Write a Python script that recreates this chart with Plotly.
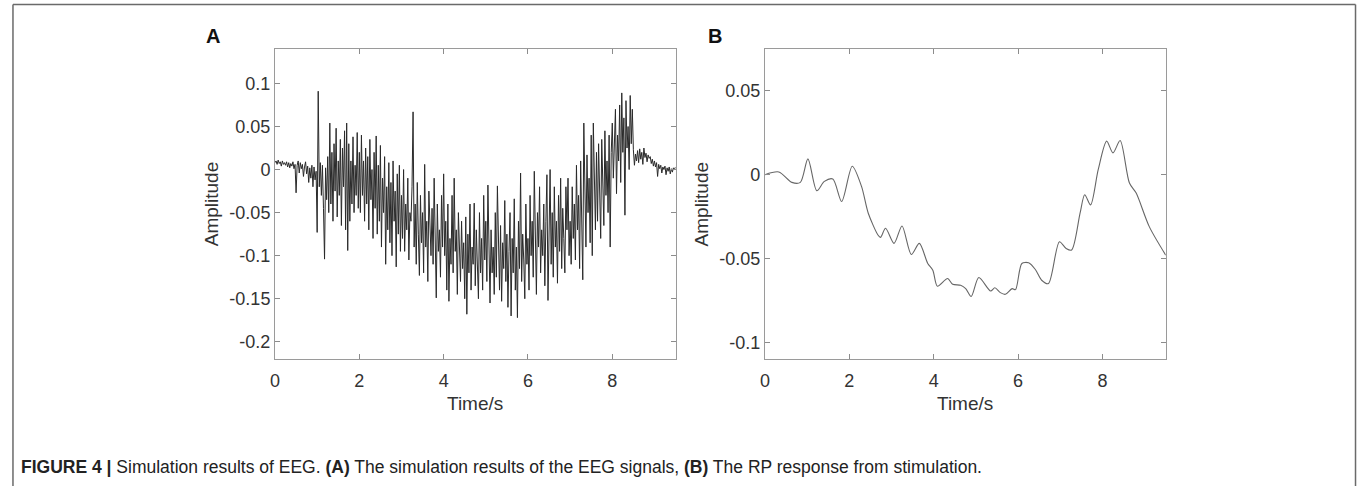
import numpy as np
import plotly.graph_objects as go

# ---------------- Data ----------------
# Panel A: simulated EEG signal, sampled every 0.025 s from 0 to 9.5 s
eeg_dt = 0.025
eeg_values = [
    # 0.0 - 1.0 s
    0.008, 0.010, 0.006, 0.011, 0.007, 0.009, 0.004, 0.010, 0.006, 0.008,
    0.005, 0.009, 0.003, 0.008, 0.002, 0.007, 0.004, 0.009, 0.001, 0.006,
    -0.027, 0.005, 0.010, -0.004, 0.008, 0.001, 0.006, -0.008, 0.003, 0.009,
    -0.005, 0.004, -0.015, 0.002, -0.010, 0.005, -0.020, 0.003, -0.012, -0.002,
    # 1.0 - 2.0 s
    -0.073, 0.091, -0.020, 0.008, -0.030, 0.005, -0.045, -0.104, 0.002, -0.035,
    0.015, -0.050, 0.054, -0.040, 0.020, -0.060, 0.030, -0.025, 0.048, -0.055,
    0.010, -0.030, 0.035, -0.065, 0.025, -0.020, 0.045, -0.070, 0.054, -0.094,
    0.030, -0.060, 0.010, -0.040, 0.038, -0.050, 0.005, -0.030, 0.043, -0.045,
    # 2.0 - 3.0 s
    0.020, -0.050, 0.040, -0.030, 0.010, -0.060, 0.025, -0.040, 0.015, -0.070,
    0.035, -0.035, 0.000, -0.080, 0.020, -0.045, 0.039, -0.075, 0.005, -0.060,
    0.028, -0.090, -0.010, -0.050, 0.015, -0.110, -0.020, -0.070, 0.008, -0.085,
    -0.015, -0.100, 0.010, -0.060, -0.025, -0.113, -0.005, -0.075, 0.005, -0.095,
    # 3.0 - 4.0 s
    -0.030, -0.080, 0.000, -0.095, -0.040, -0.070, -0.010, -0.105, -0.050, -0.060,
    -0.020, 0.067, -0.090, -0.040, -0.110, -0.015, -0.075, -0.123, -0.030, -0.085,
    -0.050, -0.120, 0.006, -0.090, -0.060, -0.130, -0.025, -0.080, -0.100, -0.045,
    -0.110, -0.010, -0.085, -0.149, -0.040, -0.095, -0.070, -0.125, -0.030, -0.090,
    # 4.0 - 5.0 s
    -0.005, -0.100, -0.060, -0.140, -0.040, -0.153, -0.080, -0.110, -0.030, -0.120,
    -0.010, -0.095, -0.070, -0.145, -0.050, -0.100, -0.130, -0.060, -0.115, -0.085,
    -0.150, -0.055, -0.168, -0.075, -0.120, -0.040, -0.140, -0.090, -0.110, -0.039,
    -0.135, -0.070, -0.100, -0.150, -0.050, -0.120, -0.080, -0.140, -0.030, -0.105,
    # 5.0 - 6.0 s
    -0.060, -0.130, -0.018, -0.110, -0.155, -0.070, -0.120, -0.090, -0.145, -0.050,
    -0.125, -0.019, -0.100, -0.140, -0.065, -0.153, -0.085, -0.115, -0.036, -0.130,
    -0.075, -0.160, -0.095, -0.050, -0.170, -0.080, -0.120, -0.034, -0.140, -0.090,
    -0.172, -0.060, -0.115, -0.004, -0.130, -0.075, -0.105, -0.150, -0.040, -0.110,
    # 6.0 - 7.0 s
    -0.080, -0.140, -0.030, -0.100, -0.060, -0.125, -0.002, -0.110, -0.145, -0.050,
    -0.090, -0.020, -0.120, -0.070, -0.100, -0.040, -0.135, -0.060, -0.006, -0.152,
    -0.080, 0.000, -0.110, -0.050, -0.125, -0.020, -0.090, -0.060, -0.132, -0.030,
    -0.095, -0.010, -0.115, -0.045, -0.080, -0.120, -0.020, -0.070, -0.010, -0.100,
    # 7.0 - 8.0 s
    -0.060, -0.110, -0.020, -0.080, -0.040, -0.105, 0.005, -0.070, -0.030, -0.115,
    0.010, -0.060, -0.128, 0.054, -0.040, -0.090, 0.017, -0.050, -0.010, -0.085,
    0.040, -0.100, 0.054, -0.030, -0.070, 0.020, -0.060, 0.030, -0.040, -0.080,
    0.035, -0.020, -0.065, 0.045, -0.030, 0.010, -0.050, 0.040, -0.090, 0.020,
    # 8.0 - 8.5 s
    0.054, -0.010, 0.030, 0.070, -0.028, 0.040, 0.010, 0.075, -0.015, 0.089,
    0.020, 0.060, -0.053, 0.080, 0.025, 0.050, 0.000, 0.086, 0.030, 0.070,
    # 8.5 - 9.5 s
    0.023, 0.005, 0.018, 0.010, 0.022, 0.008, 0.024, 0.012, 0.020, 0.006,
    0.025, 0.014, 0.019, 0.009, 0.017, 0.013, 0.015, 0.007, 0.012, 0.004,
    0.010, 0.003, 0.008, -0.008, 0.006, 0.001, 0.005, -0.004, 0.003, 0.000,
    0.004, -0.006, 0.002, -0.002, 0.003, -0.005, 0.001, -0.003, 0.002, 0.000, 0.003,
]
eeg_time = [i * eeg_dt for i in range(len(eeg_values))]

# Panel B: RP response from stimulation (traced key points of the smooth curve)
rp_time = [0, 0.33, 0.64, 0.84, 1.02, 1.23, 1.41, 1.61, 1.82, 2.07, 2.29, 2.45,
           2.68, 2.74, 2.86, 3.06, 3.25, 3.47, 3.66, 3.86, 3.98, 4.09, 4.33,
           4.45, 4.64, 4.76, 4.89, 5.07, 5.35, 5.45, 5.58, 5.70, 5.86, 5.94,
           6.09, 6.25, 6.41, 6.56, 6.72, 6.98, 7.14, 7.27, 7.47, 7.58, 7.72,
           7.90, 8.10, 8.25, 8.42, 8.64, 8.80, 9.11, 9.5]
rp_values = [0.0, 0.0016, -0.0046, -0.0046, 0.0094, -0.0096, -0.004, -0.0026,
             -0.016, 0.005, -0.007, -0.023, -0.036, -0.0374, -0.032, -0.041,
             -0.0306, -0.0476, -0.041, -0.053, -0.057, -0.0666, -0.062, -0.0654,
             -0.066, -0.068, -0.0727, -0.0614, -0.0694, -0.0675, -0.0704, -0.0714,
             -0.068, -0.0686, -0.053, -0.0526, -0.0566, -0.063, -0.065, -0.040,
             -0.044, -0.045, -0.023, -0.012, -0.018, 0.003, 0.020, 0.013, 0.0204,
             -0.005, -0.011, -0.031, -0.048]

# Tick labels
x_ticks = [0, 2, 4, 6, 8]
x_ticktext = ["0", "2", "4", "6", "8"]
yA_ticks = [0.1, 0.05, 0, -0.05, -0.1, -0.15, -0.2]
yA_ticktext = ["0.1", "0.05", "0", "-0.05", "-0.1", "-0.15", "-0.2"]
yB_ticks = [0.05, 0, -0.05, -0.1]
yB_ticktext = ["0.05", "0", "-0.05", "-0.1"]

# ---------------- Figure ----------------
W, H = 1360, 486
FONT = "Liberation Sans, Arial, Helvetica, sans-serif"

fig = go.Figure()
fig.add_trace(go.Scatter(x=eeg_time, y=eeg_values, mode="lines",
                         line=dict(color="#2a2a2a", width=1),
                         xaxis="x", yaxis="y", showlegend=False, hoverinfo="skip"))
fig.add_trace(go.Scatter(x=rp_time, y=rp_values, mode="lines",
                         line=dict(color="#666666", width=1.1, shape="spline", smoothing=0.8),
                         xaxis="x2", yaxis="y2", showlegend=False, hoverinfo="skip"))


def px_x(p):
    return p / W


def px_y(p):
    return 1 - p / H


axis_common = dict(
    ticks="inside", ticklen=5, tickcolor="#8c8c8c", tickwidth=1,
    showline=True, linecolor="#9a9a9a", linewidth=1, mirror="ticks",
    showgrid=False, zeroline=False,
    tickfont=dict(family=FONT, size=18, color="#333333"),
)

ydom = [px_y(359), px_y(49)]
fig.update_layout(
    width=W, height=H,
    margin=dict(l=0, r=0, t=0, b=0),
    paper_bgcolor="white", plot_bgcolor="white",
    xaxis=dict(domain=[px_x(271), px_x(673)], range=[0, 9.5],
               tickvals=x_ticks, ticktext=x_ticktext, anchor="y",
               ticklabelstandoff=5, **axis_common),
    yaxis=dict(domain=ydom, range=[-0.22, 0.14],
               tickvals=yA_ticks, ticktext=yA_ticktext, anchor="x",
               **axis_common),
    xaxis2=dict(domain=[px_x(762.7), px_x(1165)], range=[0, 9.5],
                tickvals=x_ticks, ticktext=x_ticktext, anchor="y2",
                ticklabelstandoff=5, **axis_common),
    yaxis2=dict(domain=ydom, range=[-0.11, 0.075],
                tickvals=yB_ticks, ticktext=yB_ticktext, anchor="x2",
                **axis_common),
)

annotations = []
# Panel letters
annotations.append(dict(text="<b>A</b>", x=px_x(209), y=px_y(36), xref="paper", yref="paper",
                        showarrow=False, font=dict(family=FONT, size=20, color="#111"),
                        xanchor="center", yanchor="middle"))
annotations.append(dict(text="<b>B</b>", x=px_x(713), y=px_y(36), xref="paper", yref="paper",
                        showarrow=False, font=dict(family=FONT, size=20, color="#111"),
                        xanchor="center", yanchor="middle"))
# Axis titles
for cx, cy in [(207, 204), (699, 204)]:
    annotations.append(dict(text="Amplitude", x=px_x(cx), y=px_y(cy), xref="paper", yref="paper",
                            showarrow=False, textangle=-90,
                            font=dict(family=FONT, size=19, color="#333333"),
                            xanchor="center", yanchor="middle"))
for cx in [472, 964]:
    annotations.append(dict(text="Time/s", x=px_x(cx), y=px_y(403), xref="paper", yref="paper",
                            showarrow=False, font=dict(family=FONT, size=19, color="#333333"),
                            xanchor="center", yanchor="middle"))
# Caption
annotations.append(dict(
    text="<b>FIGURE 4 |</b> Simulation results of EEG. <b>(A)</b> The simulation results of the EEG signals, "
         "<b>(B)</b> The RP response from stimulation.",
    x=px_x(14), y=px_y(467), xref="paper", yref="paper", showarrow=False,
    font=dict(family=FONT, size=17.5, color="#222222"), xanchor="left", yanchor="middle"))
fig.update_layout(annotations=annotations)

# Outer frame (top, left, right lines)
frame_color = "#6a6a6a"
fig.add_shape(type="line", xref="paper", yref="paper", x0=px_x(8), x1=px_x(1355.5),
              y0=px_y(4.5), y1=px_y(4.5), line=dict(color=frame_color, width=1.5))
fig.add_shape(type="line", xref="paper", yref="paper", x0=px_x(8), x1=px_x(8),
              y0=px_y(4.5), y1=px_y(486), line=dict(color=frame_color, width=1.5))
fig.add_shape(type="line", xref="paper", yref="paper", x0=px_x(1355.5), x1=px_x(1355.5),
              y0=px_y(4.5), y1=px_y(486), line=dict(color=frame_color, width=1.5))

fig.write_html("out.html",
               config={"displayModeBar": False, "staticPlot": True},
               post_script="document.body.style.margin='0';document.body.style.overflow='hidden';")
